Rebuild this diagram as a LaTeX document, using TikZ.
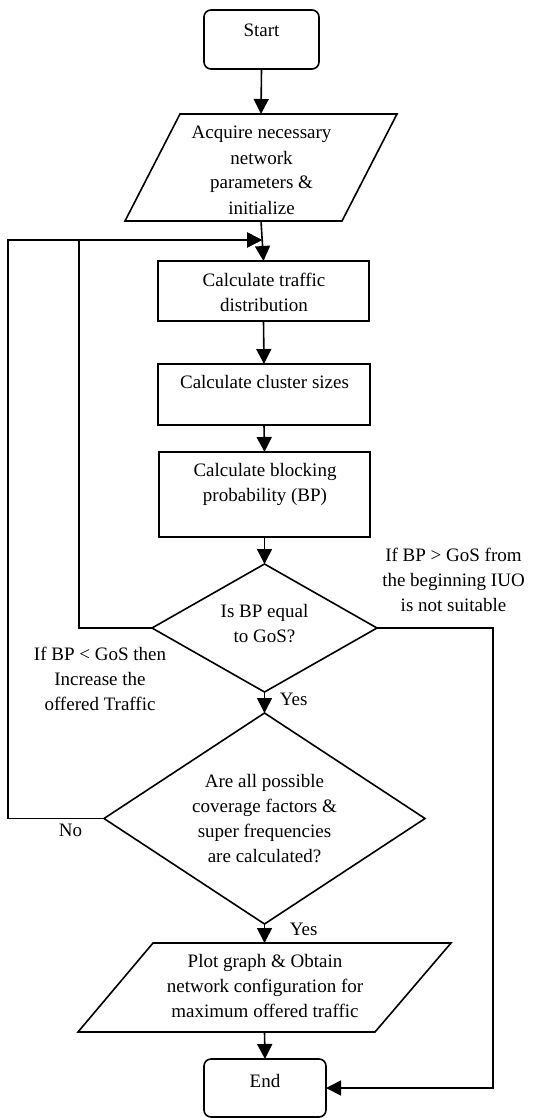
\documentclass[tikz,border=0pt]{standalone}
\usepackage{fontspec}
\setmainfont{Liberation Serif}
\usetikzlibrary{shapes.geometric,arrows.meta}
\begin{document}
\begin{tikzpicture}[x=1pt,y=-1pt,line width=1.6pt,
  txt/.style={font=\fontsize{19}{25}\selectfont,align=center,inner sep=0pt,anchor=base},
  lbl/.style={font=\fontsize{19}{25}\selectfont,align=center,inner sep=0pt,anchor=base},
  procbox/.style={draw,rectangle,inner sep=0pt,outer sep=0pt},
  termbox/.style={draw,rectangle,rounded corners=7pt,inner sep=0pt,outer sep=0pt},
  decbox/.style={draw,diamond,inner sep=0pt,outer sep=0pt},
  iobox/.style={rectangle,inner sep=0pt,outer sep=0pt},
  arr/.style={-{Triangle[length=15pt,width=15pt]}}]
\useasboundingbox (0,0) rectangle (544,1118);

% shapes
\node[termbox,minimum width=115pt,minimum height=59pt] (start) at (261.5,39.5) {};
\node[iobox,minimum width=272pt,minimum height=107pt] (param) at (261,167.5) {};
\draw (180,114) -- (397,114) -- (342,221) -- (125,221) -- cycle;
\node[procbox,minimum width=211pt,minimum height=60pt] (traffic) at (263.5,291) {};
\node[procbox,minimum width=212pt,minimum height=61pt] (cluster) at (264,394.5) {};
\node[procbox,minimum width=211pt,minimum height=85pt] (bp) at (264.5,494.5) {};
\node[decbox,minimum width=225pt,minimum height=128pt] (d1) at (264.5,628) {};
\node[decbox,minimum width=321pt,minimum height=211pt] (d2) at (264.5,818.5) {};
\node[iobox,minimum width=373pt,minimum height=89pt] (plot) at (264.5,987.5) {};
\draw (153,943) -- (451,943) -- (375,1032) -- (78,1032) -- cycle;
\node[termbox,minimum width=122pt,minimum height=58pt] (end) at (265,1088) {};

% texts (base anchor = baseline of the last line)
\node[txt] (tstart) at (261.5,37) {Start};
\node[txt] (tparam) at (261.5,214) {Acquire necessary\\network\\parameters \&\\initialize};
\node[txt] (ttraffic) at (264,311) {Calculate traffic\\distribution};
\node[txt] (tcluster) at (264.5,388) {Calculate cluster sizes};
\node[txt] (tbp) at (265,501) {Calculate blocking\\probability (BP)};
\node[txt] (td1) at (264.5,642) {Is BP equal\\to GoS?};
\node[txt] (td2) at (264.5,862) {Are all possible\\coverage factors \&\\super frequencies\\are calculated?};
\node[txt] (tplot) at (265,1017) {Plot graph \& Obtain\\network configuration for\\maximum offered traffic};
\node[txt] (tend) at (265,1087) {End};

\node[lbl] (liuo) at (453.5,611) {If BP > GoS from\\the beginning IUO\\is not suitable};
\node[lbl] (lless) at (100,710) {If BP < GoS then\\Increase the\\offered Traffic};
\node[lbl,anchor=base west] (yes1) at (279,705) {Yes};
\node[lbl,anchor=base west] (no) at (58,836) {No};
\node[lbl,anchor=base west] (yes2) at (289,935) {Yes};

% connectors
\draw[arr] (start.south) -- (param.north);
\draw[arr] (param.south) -- (traffic.north);
\draw[arr] (traffic.south) -- (cluster.north);
\draw[arr] (cluster.south) -- (bp.north);
\draw[arr] (bp.south) -- (d1.north);
\draw[arr] (d1.south) -- (d2.north);
\draw[arr] (d2.south) -- (plot.north);
\draw[arr] (plot.south) -- (end.north);

\coordinate (loop) at (262,240);
\coordinate (j1) at (79,240);
\coordinate (j2) at (8,240);
\coordinate (rc) at (493,628);
\draw[arr] (d1.west) -| (j1) -- (loop);
\draw[arr] (d2.west) -| (j2) -- (loop);
\draw[arr] (d1.east) -- (rc) |- (end.east);
\end{tikzpicture}
\end{document}
